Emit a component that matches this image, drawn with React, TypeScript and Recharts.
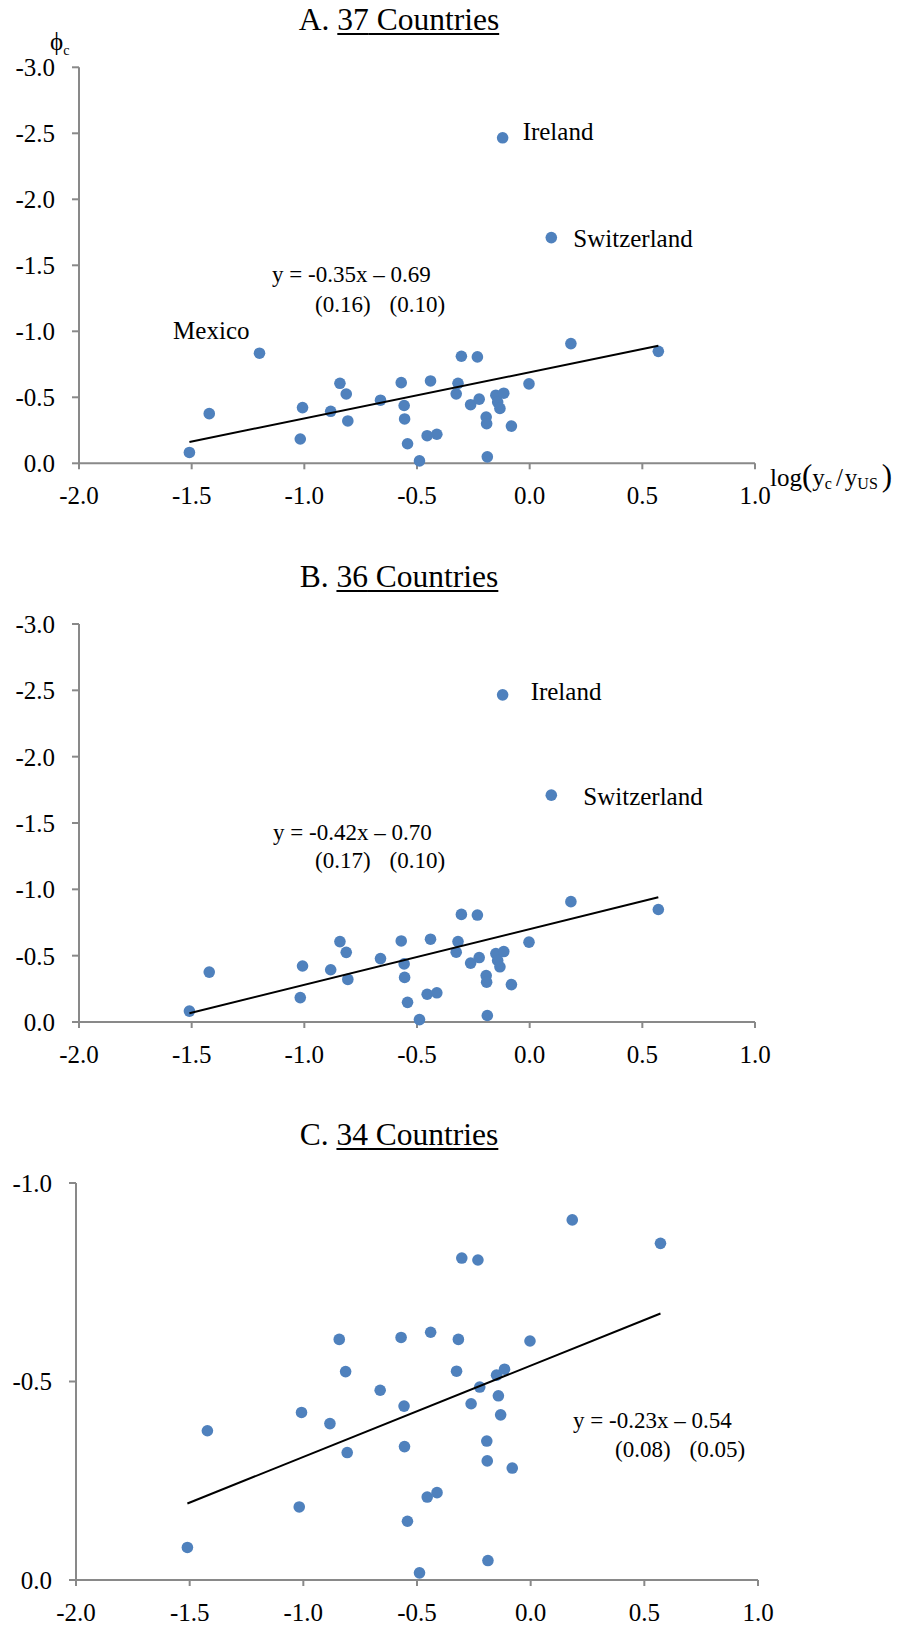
import React from 'react';
import { ScatterChart, Scatter, XAxis, YAxis } from 'recharts';

const FONT = "'Liberation Serif', 'Times New Roman', serif";
const DOT = '#4F81BD';
const AXIS = '#898989';

// log(y_c / y_US) for the 34 countries shared by all three panels
const incomeGap = [
  -1.51, -1.422, -1.018, -1.008, -0.883, -0.842, -0.814, -0.807, -0.662, -0.57,
  -0.557, -0.555, -0.542, -0.489, -0.455, -0.44, -0.412, -0.326, -0.318, -0.303,
  -0.262, -0.232, -0.224, -0.193, -0.191, -0.188, -0.15, -0.142, -0.132, -0.115,
  -0.081, -0.003, 0.183, 0.571,
];
// estimated country effect phi_c
const phi = [
  -0.082, -0.376, -0.184, -0.422, -0.394, -0.606, -0.525, -0.321, -0.478, -0.611,
  -0.438, -0.336, -0.148, -0.018, -0.209, -0.624, -0.22, -0.526, -0.606, -0.811,
  -0.444, -0.806, -0.486, -0.35, -0.3, -0.049, -0.516, -0.464, -0.416, -0.531,
  -0.282, -0.602, -0.907, -0.848,
];

// named outliers
const outlierNames = ['Mexico', 'Ireland', 'Switzerland'];
const outlierIncomeGap = [-1.199, -0.12, 0.096];
const outlierPhi = [-0.834, -2.466, -1.71];

// regression results per panel: y = slope * x + intercept (standard errors)
const slopes = [-0.35, -0.42, -0.23];
const intercepts = [-0.69, -0.7, -0.54];
const slopeErrors = [0.16, 0.17, 0.08];
const interceptErrors = [0.1, 0.1, 0.05];

const panelLetters = ['A', 'B', 'C'];
const xTicks = [-2, -1.5, -1, -0.5, 0, 0.5, 1];
const yTicksWide = [-3, -2.5, -2, -1.5, -1, -0.5, 0];
const yTicksNarrow = [-1, -0.5, 0];

type Pt = { x: number; y: number; name?: string };

const basePoints: Pt[] = incomeGap.map((x, i) => ({ x, y: phi[i] }));
const outliers: Pt[] = outlierNames.map((name, i) => ({
  x: outlierIncomeGap[i],
  y: outlierPhi[i],
  name,
}));

const panelData: Pt[][] = [
  [...basePoints, ...outliers],
  [...basePoints, outliers[1], outliers[2]],
  basePoints,
];

const fmt = (v: number) => v.toFixed(1);

type LabelOffset = { dx: number; dy: number; anchor: 'start' | 'end' };
type Layout = {
  top: number;
  height: number;
  left: number;
  right: number;
  plotTop: number;
  plotBottom: number;
  yDomain: [number, number];
  yTicks: number[];
  labels: Record<string, LabelOffset>;
  titleBaseline: number;
  eq: { x: number; y: number; x2: number; y2: number };
};

const layouts: Layout[] = [
  {
    top: 0, height: 540, left: 79, right: 755, plotTop: 67.3, plotBottom: 463.3,
    yDomain: [-3, 0], yTicks: yTicksWide,
    labels: {
      Mexico: { dx: -10, dy: -14, anchor: 'end' },
      Ireland: { dx: 20, dy: 2, anchor: 'start' },
      Switzerland: { dx: 22, dy: 9, anchor: 'start' },
    },
    titleBaseline: 30,
    eq: { x: 272, y: 282, x2: 315, y2: 312 },
  },
  {
    top: 540, height: 560, left: 79, right: 755, plotTop: 624, plotBottom: 1022,
    yDomain: [-3, 0], yTicks: yTicksWide,
    labels: {
      Ireland: { dx: 28, dy: 5, anchor: 'start' },
      Switzerland: { dx: 32, dy: 10, anchor: 'start' },
    },
    titleBaseline: 587,
    eq: { x: 273, y: 840, x2: 315, y2: 868 },
  },
  {
    top: 1100, height: 526, left: 76, right: 758, plotTop: 1183, plotBottom: 1580,
    yDomain: [-1, 0], yTicks: yTicksNarrow,
    labels: {},
    titleBaseline: 1145,
    eq: { x: 573, y: 1428, x2: 615, y2: 1457 },
  },
];

const X_AXIS_H = 40;
const tickStyle = { fill: '#000', fontSize: 25, fontFamily: FONT, style: { fontFamily: FONT } };
const textStyle = { fontFamily: FONT };

function makePointShape(labels: Record<string, LabelOffset>) {
  return (props: any) => {
    const { cx, cy, payload } = props;
    const off = payload && payload.name ? labels[payload.name] : undefined;
    return (
      <g>
        <circle cx={cx} cy={cy} r={5.8} fill={DOT} />
        {off && (
          <text
            x={cx + off.dx}
            y={cy + off.dy}
            textAnchor={off.anchor}
            fontSize={25}
            style={textStyle}
            fill="#000"
          >
            {payload.name}
          </text>
        )}
      </g>
    );
  };
}

function Panel({ index }: { index: number }) {
  const L = layouts[index];
  const data = panelData[index];
  const xs = data.map((d) => d.x);
  const xMin = Math.min(...xs);
  const xMax = Math.max(...xs);
  const trend = [xMin, xMax].map((x) => ({ x, y: slopes[index] * x + intercepts[index] }));
  const margin = {
    top: L.plotTop - L.top,
    right: 907 - L.right,
    bottom: L.top + L.height - L.plotBottom - X_AXIS_H,
    left: 0,
  };
  return (
    <div style={{ position: 'absolute', left: 0, top: L.top, fontFamily: FONT }}>
      <ScatterChart width={907} height={L.height} margin={margin} style={{ fontFamily: FONT }}>
        <XAxis
          type="number"
          dataKey="x"
          domain={[-2, 1]}
          ticks={xTicks}
          interval={0}
          tickFormatter={fmt}
          height={X_AXIS_H}
          axisLine={{ stroke: AXIS, strokeWidth: 2 }}
          tickLine={{ stroke: AXIS, strokeWidth: 2 }}
          tickSize={6}
          tickMargin={17}
          tick={tickStyle}
        />
        <YAxis
          type="number"
          dataKey="y"
          domain={L.yDomain}
          ticks={L.yTicks}
          interval={0}
          reversed
          tickFormatter={fmt}
          width={L.left}
          axisLine={{ stroke: AXIS, strokeWidth: 2 }}
          tickLine={{ stroke: AXIS, strokeWidth: 2 }}
          tickSize={7}
          tickMargin={17}
          tick={tickStyle}
        />
        <Scatter data={data} isAnimationActive={false} shape={makePointShape(L.labels)} />
        <Scatter
          data={trend}
          isAnimationActive={false}
          line={{ stroke: '#000', strokeWidth: 2 }}
          shape={() => <g />}
        />
      </ScatterChart>
    </div>
  );
}

function Title({ index }: { index: number }) {
  const L = layouts[index];
  return (
    <div
      style={{
        position: 'absolute',
        left: 399,
        top: L.titleBaseline - 26,
        transform: 'translateX(-50%)',
        fontFamily: FONT,
        fontSize: 31.5,
        lineHeight: '31.5px',
        whiteSpace: 'nowrap',
        color: '#000',
      }}
    >
      {panelLetters[index]}.{' '}
      <span
        style={{
          textDecoration: 'underline',
          textDecorationThickness: '2px',
          textUnderlineOffset: '3px',
        }}
      >
        {panelData[index].length} Countries
      </span>
    </div>
  );
}

function Equation({ index }: { index: number }) {
  const e = layouts[index].eq;
  const line1 = `y = ${slopes[index].toFixed(2)}x \u2013 ${Math.abs(intercepts[index]).toFixed(2)}`;
  return (
    <g fontSize={23} fill="#000" style={textStyle}>
      <text x={e.x} y={e.y} style={textStyle}>{line1}</text>
      <text x={e.x2} y={e.y2} style={textStyle}>
        <tspan>({slopeErrors[index].toFixed(2)})</tspan>
        <tspan dx={19}>({interceptErrors[index].toFixed(2)})</tspan>
      </text>
    </g>
  );
}

export default function App() {
  return (
    <div
      style={{
        position: 'absolute',
        left: 0,
        top: 0,
        width: 907,
        height: 1626,
        background: '#fff',
        overflow: 'hidden',
        fontFamily: FONT,
      }}
    >
      {[0, 1, 2].map((i) => (
        <Panel key={`p${i}`} index={i} />
      ))}
      {[0, 1, 2].map((i) => (
        <Title key={`t${i}`} index={i} />
      ))}
      <svg
        width={907}
        height={1626}
        style={{ position: 'absolute', left: 0, top: 0, pointerEvents: 'none', fontFamily: FONT }}
      >
        {[0, 1, 2].map((i) => (
          <Equation key={`e${i}`} index={i} />
        ))}
        {/* y-axis title of the first panel */}
        <text x={50} y={50} fontSize={25} fill="#000" style={textStyle}>
          {'\u03D5'}
          <tspan fontSize={14} dy={5}>c</tspan>
        </text>
        {/* x-axis title of the first panel */}
        <text x={770} y={486} fontSize={25} fill="#000" style={textStyle}>
          log
          <tspan fontSize={31}>(</tspan>
          <tspan>y</tspan>
          <tspan fontSize={16} dy={3}>c</tspan>
          <tspan dx={4} dy={-3}>/</tspan>
          <tspan dx={2}>y</tspan>
          <tspan fontSize={16} dy={3}>US</tspan>
          <tspan fontSize={31} dx={4} dy={-3}>)</tspan>
        </text>
      </svg>
    </div>
  );
}
